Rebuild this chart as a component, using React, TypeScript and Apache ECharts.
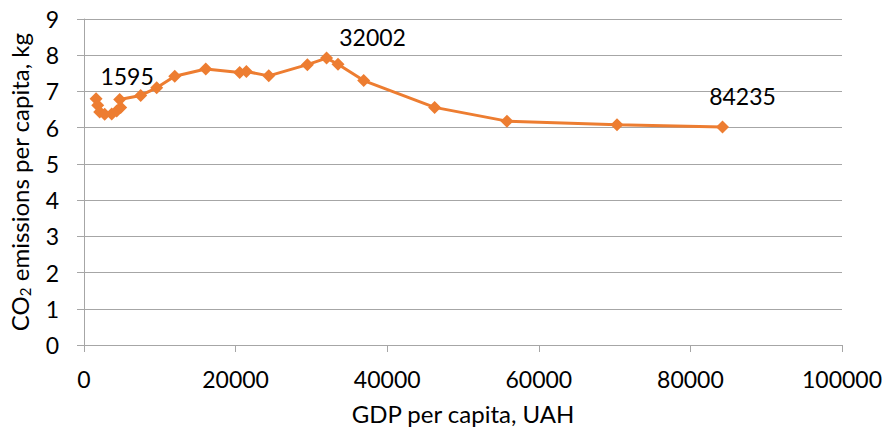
import React, { useEffect, useRef } from "react";
import * as echarts from "echarts";

const gdp = [1595, 1810, 2070, 2730, 3650, 4310, 4840, 4710, 7480, 9590, 11970, 16060, 20540, 21420, 24370, 29470, 32002, 33510, 36900, 46260, 55800, 70320, 84235];
const co2 = [6.8, 6.62, 6.43, 6.37, 6.38, 6.46, 6.56, 6.78, 6.89, 7.1, 7.42, 7.62, 7.52, 7.55, 7.43, 7.74, 7.92, 7.75, 7.3, 6.56, 6.18, 6.08, 6.02];
const labelled = [1595, 32002, 84235];
const labelOffsets: Record<number, number[]> = { 1595: [31, 0], 32002: [46, 2], 84235: [20, -8] };
const yTicks = [0, 9, 1];
const xTicks = [0, 100000, 20000];

const FONT = "Lato";
const FS = 23;

export default function App() {
  const ref = useRef<HTMLDivElement>(null);
  useEffect(() => {
    if (!ref.current) return;
    const chart = echarts.init(ref.current, undefined, { renderer: "svg" });
    const data = gdp.map((g, i) => {
      const item: any = { value: [g, co2[i]] };
      if (labelled.includes(g)) {
        item.label = {
          show: true,
          position: "top",
          offset: labelOffsets[g],
          formatter: String(g),
          fontFamily: FONT,
          fontSize: FS,
          color: "#000",
        };
      }
      return item;
    });
    chart.setOption({
      animation: false,
      backgroundColor: "#fff",
      grid: { left: 84, right: 44, top: 19, bottom: 87, containLabel: false, outerBoundsMode: "none" },
      xAxis: {
        type: "value",
        min: xTicks[0],
        max: xTicks[1],
        interval: xTicks[2],
        name: "GDP per capita, UAH",
        nameLocation: "middle",
        nameGap: 56,
        nameMoveOverlap: false,
        nameTextStyle: { fontFamily: FONT, fontSize: 24, color: "#000" },
        axisLine: { show: true, lineStyle: { color: "#a6a6a6", width: 1 } },
        axisTick: { show: true, inside: false, length: 7, lineStyle: { color: "#a6a6a6" } },
        axisLabel: { fontFamily: FONT, fontSize: FS, color: "#000", margin: 22, formatter: (v: number) => String(v) },
        splitLine: { show: false },
      },
      yAxis: {
        type: "value",
        min: yTicks[0],
        max: yTicks[1],
        interval: yTicks[2],
        name: "CO{sub|2} emissions per capita, kg",
        nameLocation: "middle",
        nameGap: 52,
        nameRotate: 90,
        nameTextStyle: {
          fontFamily: FONT,
          fontSize: 24,
          color: "#000",
          rich: {
            sub: { fontFamily: FONT, fontSize: 15, color: "#000", padding: [11, 0, 0, 0] },
          },
        },
        axisLine: { show: true, lineStyle: { color: "#a6a6a6", width: 1 } },
        axisTick: { show: true, inside: false, length: 7, lineStyle: { color: "#a6a6a6" } },
        axisLabel: { fontFamily: FONT, fontSize: FS, color: "#000", margin: 25 },
        splitLine: { show: true, lineStyle: { color: "#a6a6a6", width: 1 } },
      },
      series: [
        {
          type: "line",
          data,
          symbol: "diamond",
          symbolSize: 13,
          lineStyle: { color: "#ED7D31", width: 3 },
          itemStyle: { color: "#ED7D31" },
          label: { show: false },
        },
      ],
    });
    return () => chart.dispose();
  }, []);
  return <div ref={ref} style={{ position: "fixed", left: 0, top: 0, width: 886, height: 432 }} />;
}
